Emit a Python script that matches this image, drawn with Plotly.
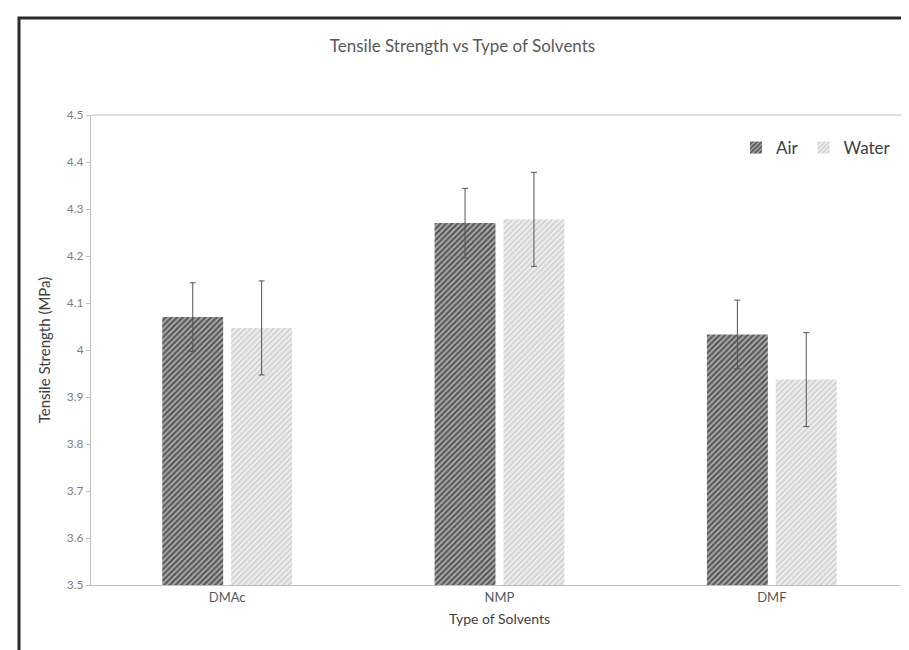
import plotly.graph_objects as go

categories = ["DMAc", "NMP", "DMF"]
air_values = [4.07, 4.27, 4.033]
air_errors = [0.073, 0.074, 0.073]
water_values = [4.047, 4.278, 3.937]
water_errors = [0.1, 0.1, 0.1]
y_tick_vals = [3.5, 3.6, 3.7, 3.8, 3.9, 4.0, 4.1, 4.2, 4.3, 4.4, 4.5]
y_tick_text = ["3.5", "3.6", "3.7", "3.8", "3.9", "4", "4.1", "4.2", "4.3", "4.4", "4.5"]

W, H = 909, 650
L, R, T, B = 83, 9, 107, 73
pw, ph = W - L - R, H - T - B

def px(x):
    return (x - L) / pw

def py(y):
    return (H - B - y) / ph

font = "Lato, 'Open Sans', sans-serif"

fig = go.Figure()
fig.add_trace(go.Bar(
    name="Air", x=categories, y=air_values,
    marker=dict(color="#bdbdbd", line=dict(width=0),
                pattern=dict(shape="/", fgcolor="#000000", bgcolor="#b4b4b4", size=4, solidity=0.6)),
    error_y=dict(type="data", array=air_errors, visible=True, color="#555555", thickness=1, width=3),
))
fig.add_trace(go.Bar(
    name="Water", x=categories, y=water_values,
    marker=dict(color="#e0e0e0", line=dict(width=0),
                pattern=dict(shape="/", fgcolor="#b5b5b5", bgcolor="#efefef", size=4, solidity=0.5)),
    error_y=dict(type="data", array=water_errors, visible=True, color="#555555", thickness=1, width=3),
))

fig.update_layout(
    width=W, height=H,
    margin=dict(l=L, r=R, t=T, b=B),
    paper_bgcolor="white", plot_bgcolor="white",
    barmode="group", bargap=0.494, bargroupgap=0.116,
    font=dict(family=font, color="#595959"),
    title=dict(text="Tensile Strength vs Type of Solvents", x=0.5, xanchor="center",
               y=1 - 38 / H, yanchor="middle", font=dict(size=17, color="#595959", family=font)),
    legend=dict(orientation="h", x=px(888), xanchor="right", y=py(140), yanchor="middle",
                font=dict(size=17, color="#404040", family=font), bgcolor="rgba(0,0,0,0)",
                itemwidth=30, traceorder="normal", tracegroupgap=0),
    showlegend=True,
)
fig.update_xaxes(
    showline=True, linecolor="#bfbfbf", linewidth=1, mirror=False,
    ticks="", tickfont=dict(size=13, color="#595959"),
    title=dict(text="Type of Solvents", font=dict(size=14, color="#404040"), standoff=10),
    showgrid=False,
)
fig.update_yaxes(
    range=[3.5, 4.5], tickvals=y_tick_vals, ticktext=y_tick_text,
    showline=True, linecolor="#bfbfbf", linewidth=1,
    ticks="outside", ticklen=4, tickcolor="#bfbfbf", tickfont=dict(size=12, color="#7f7f7f"),
    title=dict(text="Tensile Strength (MPa)", font=dict(size=15, color="#404040"), standoff=12),
    showgrid=False, zeroline=False,
)
# top edge of plot area
fig.add_shape(type="line", xref="paper", yref="paper", x0=0, x1=1, y0=1, y1=1,
              line=dict(color="#bfbfbf", width=1))
# outer frame
fig.add_shape(type="rect", xref="paper", yref="paper",
              x0=px(11), x1=px(906), y0=py(670), y1=py(10),
              line=dict(color="#2a2a2a", width=3), layer="above")

fig.write_html("out.html")
